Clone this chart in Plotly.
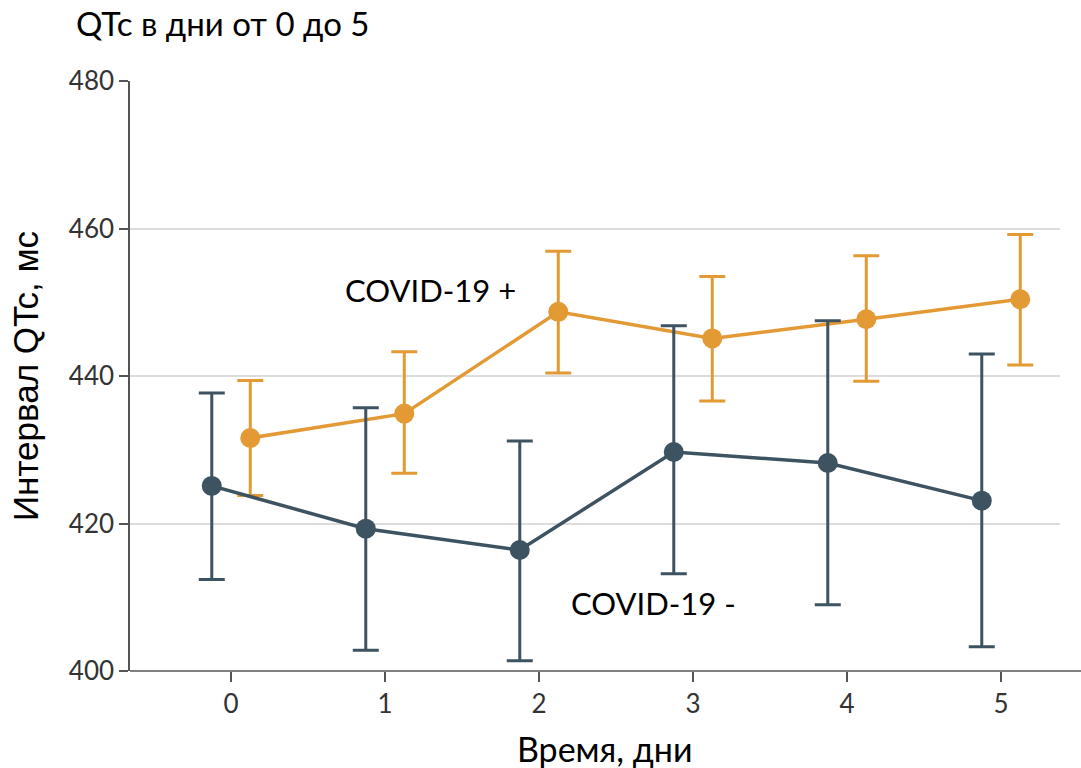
import plotly.graph_objects as go

days = [0, 1, 2, 3, 4, 5]

neg_name = "COVID-19 -"
neg_mean = [425.1, 419.3, 416.4, 429.7, 428.2, 423.1]
neg_upper = [437.7, 435.7, 431.2, 446.8, 447.5, 443.0]
neg_lower = [412.4, 402.8, 401.4, 413.2, 409.0, 403.3]

pos_name = "COVID-19 +"
pos_mean = [431.6, 434.9, 448.7, 445.1, 447.7, 450.4]
pos_upper = [439.4, 443.3, 456.9, 453.5, 456.3, 459.2]
pos_lower = [423.8, 426.8, 440.4, 436.6, 439.3, 441.5]

y_ticks = [400, 420, 440, 460, 480]

title_text = "QTc в дни от 0 до 5"
x_title = "Время, дни"
y_title = "Интервал QTc, мс"

ORANGE = "#E39A35"
SLATE = "#3E5361"
OFFSET = 0.125

PL, PR, PT, PB = 130, 1060, 81, 671  # plot area in pixels
PW, PH = PR - PL, PB - PT


def trace(mean, upper, lower, color, name, shift):
    return go.Scatter(
        x=[d + shift for d in days],
        y=mean,
        mode="lines+markers",
        name=name,
        line=dict(color=color, width=3.5),
        marker=dict(color=color, size=20),
        error_y=dict(
            type="data",
            symmetric=False,
            array=[u - m for u, m in zip(upper, mean)],
            arrayminus=[m - l for m, l in zip(mean, lower)],
            color=color,
            thickness=3,
            width=13,
        ),
        showlegend=False,
    )


fig = go.Figure()
fig.add_trace(trace(pos_mean, pos_upper, pos_lower, ORANGE, pos_name, OFFSET))
fig.add_trace(trace(neg_mean, neg_upper, neg_lower, SLATE, neg_name, -OFFSET))

fig.add_annotation(x=1.295, y=451.6, xref="x", yref="y", text=pos_name,
                   showarrow=False, font=dict(family="Lato", size=31, color="#000"))
fig.add_annotation(x=2.744, y=409.2, xref="x", yref="y", text=neg_name,
                   showarrow=False, font=dict(family="Lato", size=31, color="#000"))

# x-axis title placed at the reference pixel position
fig.add_annotation(x=(605 - PL) / PW, y=-(748 - PB) / PH, xref="paper", yref="paper",
                   text=x_title, showarrow=False, xanchor="center", yanchor="middle",
                   font=dict(family="Lato", size=34, color="#000"))

# extended x-axis baseline to the right edge
fig.add_shape(type="line", xref="paper", yref="paper", x0=0, x1=(1081 - PL) / PW,
              y0=0, y1=0, line=dict(color="#555", width=1.5), layer="above")

fig.update_layout(
    width=1081,
    height=768,
    margin=dict(l=PL, r=1081 - PR, t=PT, b=768 - PB, autoexpand=False),
    paper_bgcolor="white",
    plot_bgcolor="white",
    font=dict(family="Lato", size=26, color="#222"),
    title=dict(text=title_text, x=76 / 1081, xanchor="left", xref="container",
               y=1 - 24 / 768, yanchor="middle", yref="container",
               font=dict(family="Lato", size=33, color="#000")),
    xaxis=dict(
        range=[-0.656, 5.383],
        tickvals=days,
        ticks="outside",
        ticklen=10,
        tickwidth=1.5,
        tickcolor="#555",
        showgrid=False,
        zeroline=False,
        showline=False,
        automargin=False,
        tickfont=dict(family="Lato", size=26, color="#333"),
    ),
    yaxis=dict(
        range=[400, 480],
        tickvals=y_ticks,
        ticks="outside",
        ticklen=9,
        tickwidth=1.5,
        tickcolor="#555",
        showgrid=True,
        gridcolor="#DCDCDC",
        gridwidth=2,
        zeroline=False,
        showline=True,
        linecolor="#555",
        linewidth=1.5,
        automargin=False,
        tickfont=dict(family="Lato", size=26, color="#333"),
        title=dict(text=y_title, font=dict(family="Liberation Sans", size=35, color="#000"), standoff=20),
    ),
)

fig.write_html("out.html")
